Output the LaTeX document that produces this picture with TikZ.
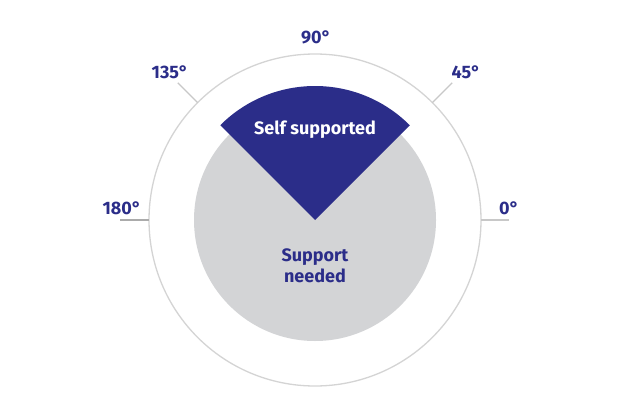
\documentclass[tikz,border=0pt]{standalone}
\usepackage{fontspec}
\setmainfont{Fira Sans}
\definecolor{navy}{HTML}{2B2D89}
\definecolor{softgray}{HTML}{D3D4D6}
\definecolor{ringgray}{HTML}{D4D4D4}
\definecolor{tickgray}{HTML}{C8C8C8}
\definecolor{tickdark}{HTML}{ABABAB}
\tikzset{
  ring/.style={draw=ringgray, line width=1.3pt},
  tickline/.style={draw=tickgray, line width=1.3pt},
  angle/.style={font=\bfseries\fontsize{18}{21}\selectfont, text=navy, inner sep=0pt},
  inlabel/.style={font=\bfseries\fontsize{18}{21}\selectfont, align=center, inner sep=0pt}
}
\begin{document}
\begin{tikzpicture}[x=1pt,y=1pt]
\useasboundingbox[fill=white] (0,0) rectangle (620,400);
\coordinate (c) at (315,180);
\fill[softgray] (c) circle[radius=121];
\fill[navy] (c) -- ++(45:134) arc[start angle=45,end angle=135,radius=134] -- cycle;
\draw[ring] (c) circle[radius=166];
\draw[tickline] (c) ++(135:166) -- ++(135:28);
\draw[tickline] (c) ++(45:166) -- ++(45:28);
\draw[tickline] (c) ++(0:166) -- ++(0:28);
\draw[tickline, draw=tickdark, line width=2pt] (c) ++(180:166) -- ++(180:29);
\node[angle] (l90) at (316,363) {90°};
\node[angle] (l135) at (170,328) {135°};
\node[angle] (l45) at (466,328) {45°};
\node[angle] (l180) at (122,192) {180°};
\node[angle] (l0) at (509,192) {0°};
\node[inlabel, text=white] (self) at (315,270) {Self supported};
\node[inlabel, text=navy] (need) at (315,134) {Support\\needed};
\end{tikzpicture}
\end{document}
